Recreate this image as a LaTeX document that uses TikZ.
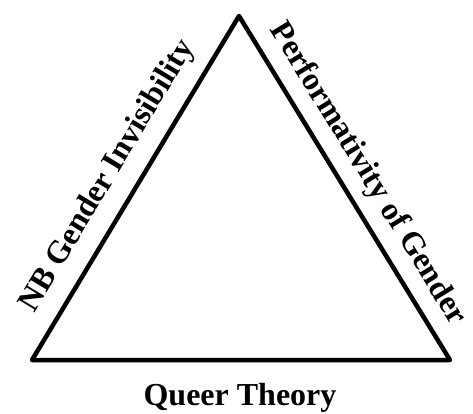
\documentclass[tikz,border=0pt]{standalone}
\usepackage{fontspec}
\setmainfont{Liberation Serif}
\usetikzlibrary{positioning,calc}
\tikzset{
  oldal/.style={line width=4.5pt,line join=round,line cap=round},
  felirat/.style={font=\fontsize{32}{37}\selectfont\bfseries,inner sep=0pt},
}

\begin{document}
\begin{tikzpicture}[x=1pt,y=-1pt]
  \useasboundingbox (0,0) rectangle (473,414);
  \coordinate (csucs) at (239,16);
  \coordinate (bal) at (32,360);
  \coordinate (jobb) at (450,360);
  % triangle with its side labels
  \draw[oldal] (bal) -- node[felirat,sloped,anchor=south,pos=0.49,yshift=13pt] (nb) {NB Gender Invisibility}
    (csucs) -- node[felirat,sloped,anchor=south,pos=0.5,yshift=10pt] (perf) {Performativity of Gender}
    (jobb) -- cycle;
  \node[felirat,anchor=base] (queer) at (240,405) {Queer Theory};
\end{tikzpicture}
\end{document}
